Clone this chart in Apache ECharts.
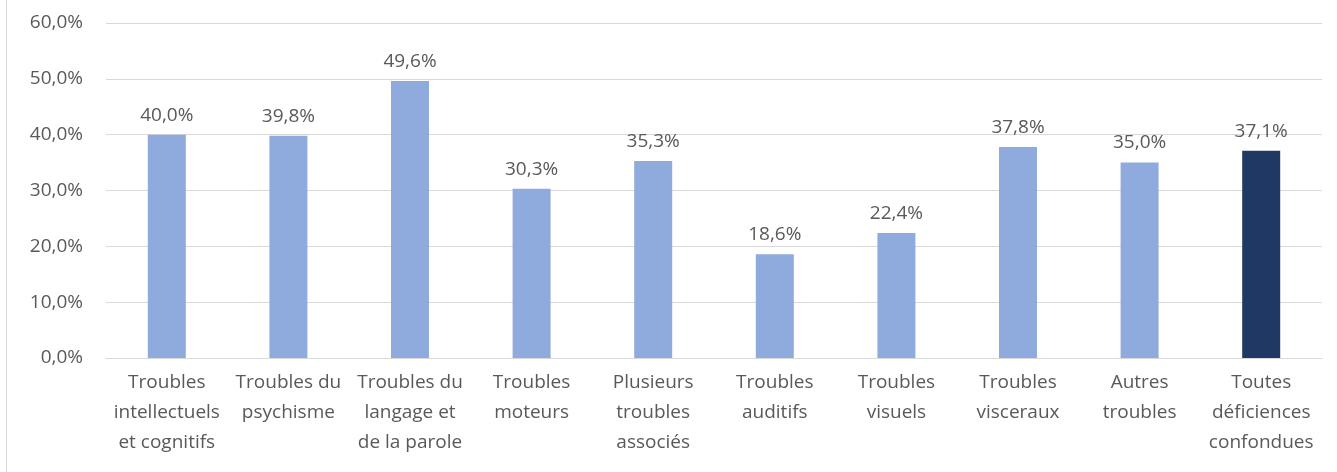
<!DOCTYPE html>
<html>
<head>
<meta charset="utf-8">
<script src="https://cdn.jsdelivr.net/npm/echarts@6/dist/echarts.min.js"></script>
<style>
  html, body { margin: 0; padding: 0; background: #fff; }
  #chart { width: 1337px; height: 472px; }
</style>
</head>
<body>
<div id="chart"></div>
<script>
// categories as printed under the axis (line breaks as in the picture)
const categories = [
    'Troubles\nintellectuels\net cognitifs',
    'Troubles du\npsychisme',
    'Troubles du\nlangage et\nde la parole',
    'Troubles\nmoteurs',
    'Plusieurs\ntroubles\nassociés',
    'Troubles\nauditifs',
    'Troubles\nvisuels',
    'Troubles\nvisceraux',
    'Autres\ntroubles',
    'Toutes\ndéficiences\nconfondues'
];
const values = [40.0, 39.8, 49.6, 30.3, 35.3, 18.6, 22.4, 37.8, 35.0, 37.1];
const highlightIndex = 9;

const lightBar = '#8faadc';
const darkBar = '#203864';
const textColor = '#595959';
const font = '"Open Sans", sans-serif';

const fmt = v => v.toFixed(1).replace('.', ',') + '%';

const chart = echarts.init(document.getElementById('chart'));

chart.setOption({
    animation: false,
    textStyle: { fontFamily: font },
    grid: {
        left: 106,
        right: 15,
        top: 23,
        bottom: 114
    },
    graphic: [{
        type: 'line',
        shape: { x1: 6.5, y1: 0, x2: 6.5, y2: 472 },
        style: { stroke: '#d9d9d9', lineWidth: 1 }
    }],
    xAxis: {
        type: 'category',
        data: categories,
        axisTick: { show: false },
        axisLine: { lineStyle: { color: '#d9d9d9', width: 1 } },
        axisLabel: {
            color: textColor,
            fontSize: 19,
            fontFamily: font,
            lineHeight: 30,
            interval: 0,
            margin: 10
        }
    },
    yAxis: {
        type: 'value',
        min: 0,
        max: 60,
        interval: 10,
        axisLine: { show: false },
        axisTick: { show: false },
        splitLine: { lineStyle: { color: '#d9d9d9', width: 1 } },
        axisLabel: {
            color: textColor,
            fontSize: 19,
            fontFamily: font,
            margin: 23,
            formatter: v => fmt(v)
        }
    },
    series: [{
        type: 'bar',
        barWidth: 38,
        data: values.map((v, i) => ({
            value: v,
            itemStyle: { color: i === highlightIndex ? darkBar : lightBar }
        })),
        label: {
            show: true,
            position: 'top',
            distance: 10,
            color: textColor,
            fontSize: 19,
            fontFamily: font,
            formatter: p => fmt(p.value)
        }
    }]
});
</script>
</body>
</html>
